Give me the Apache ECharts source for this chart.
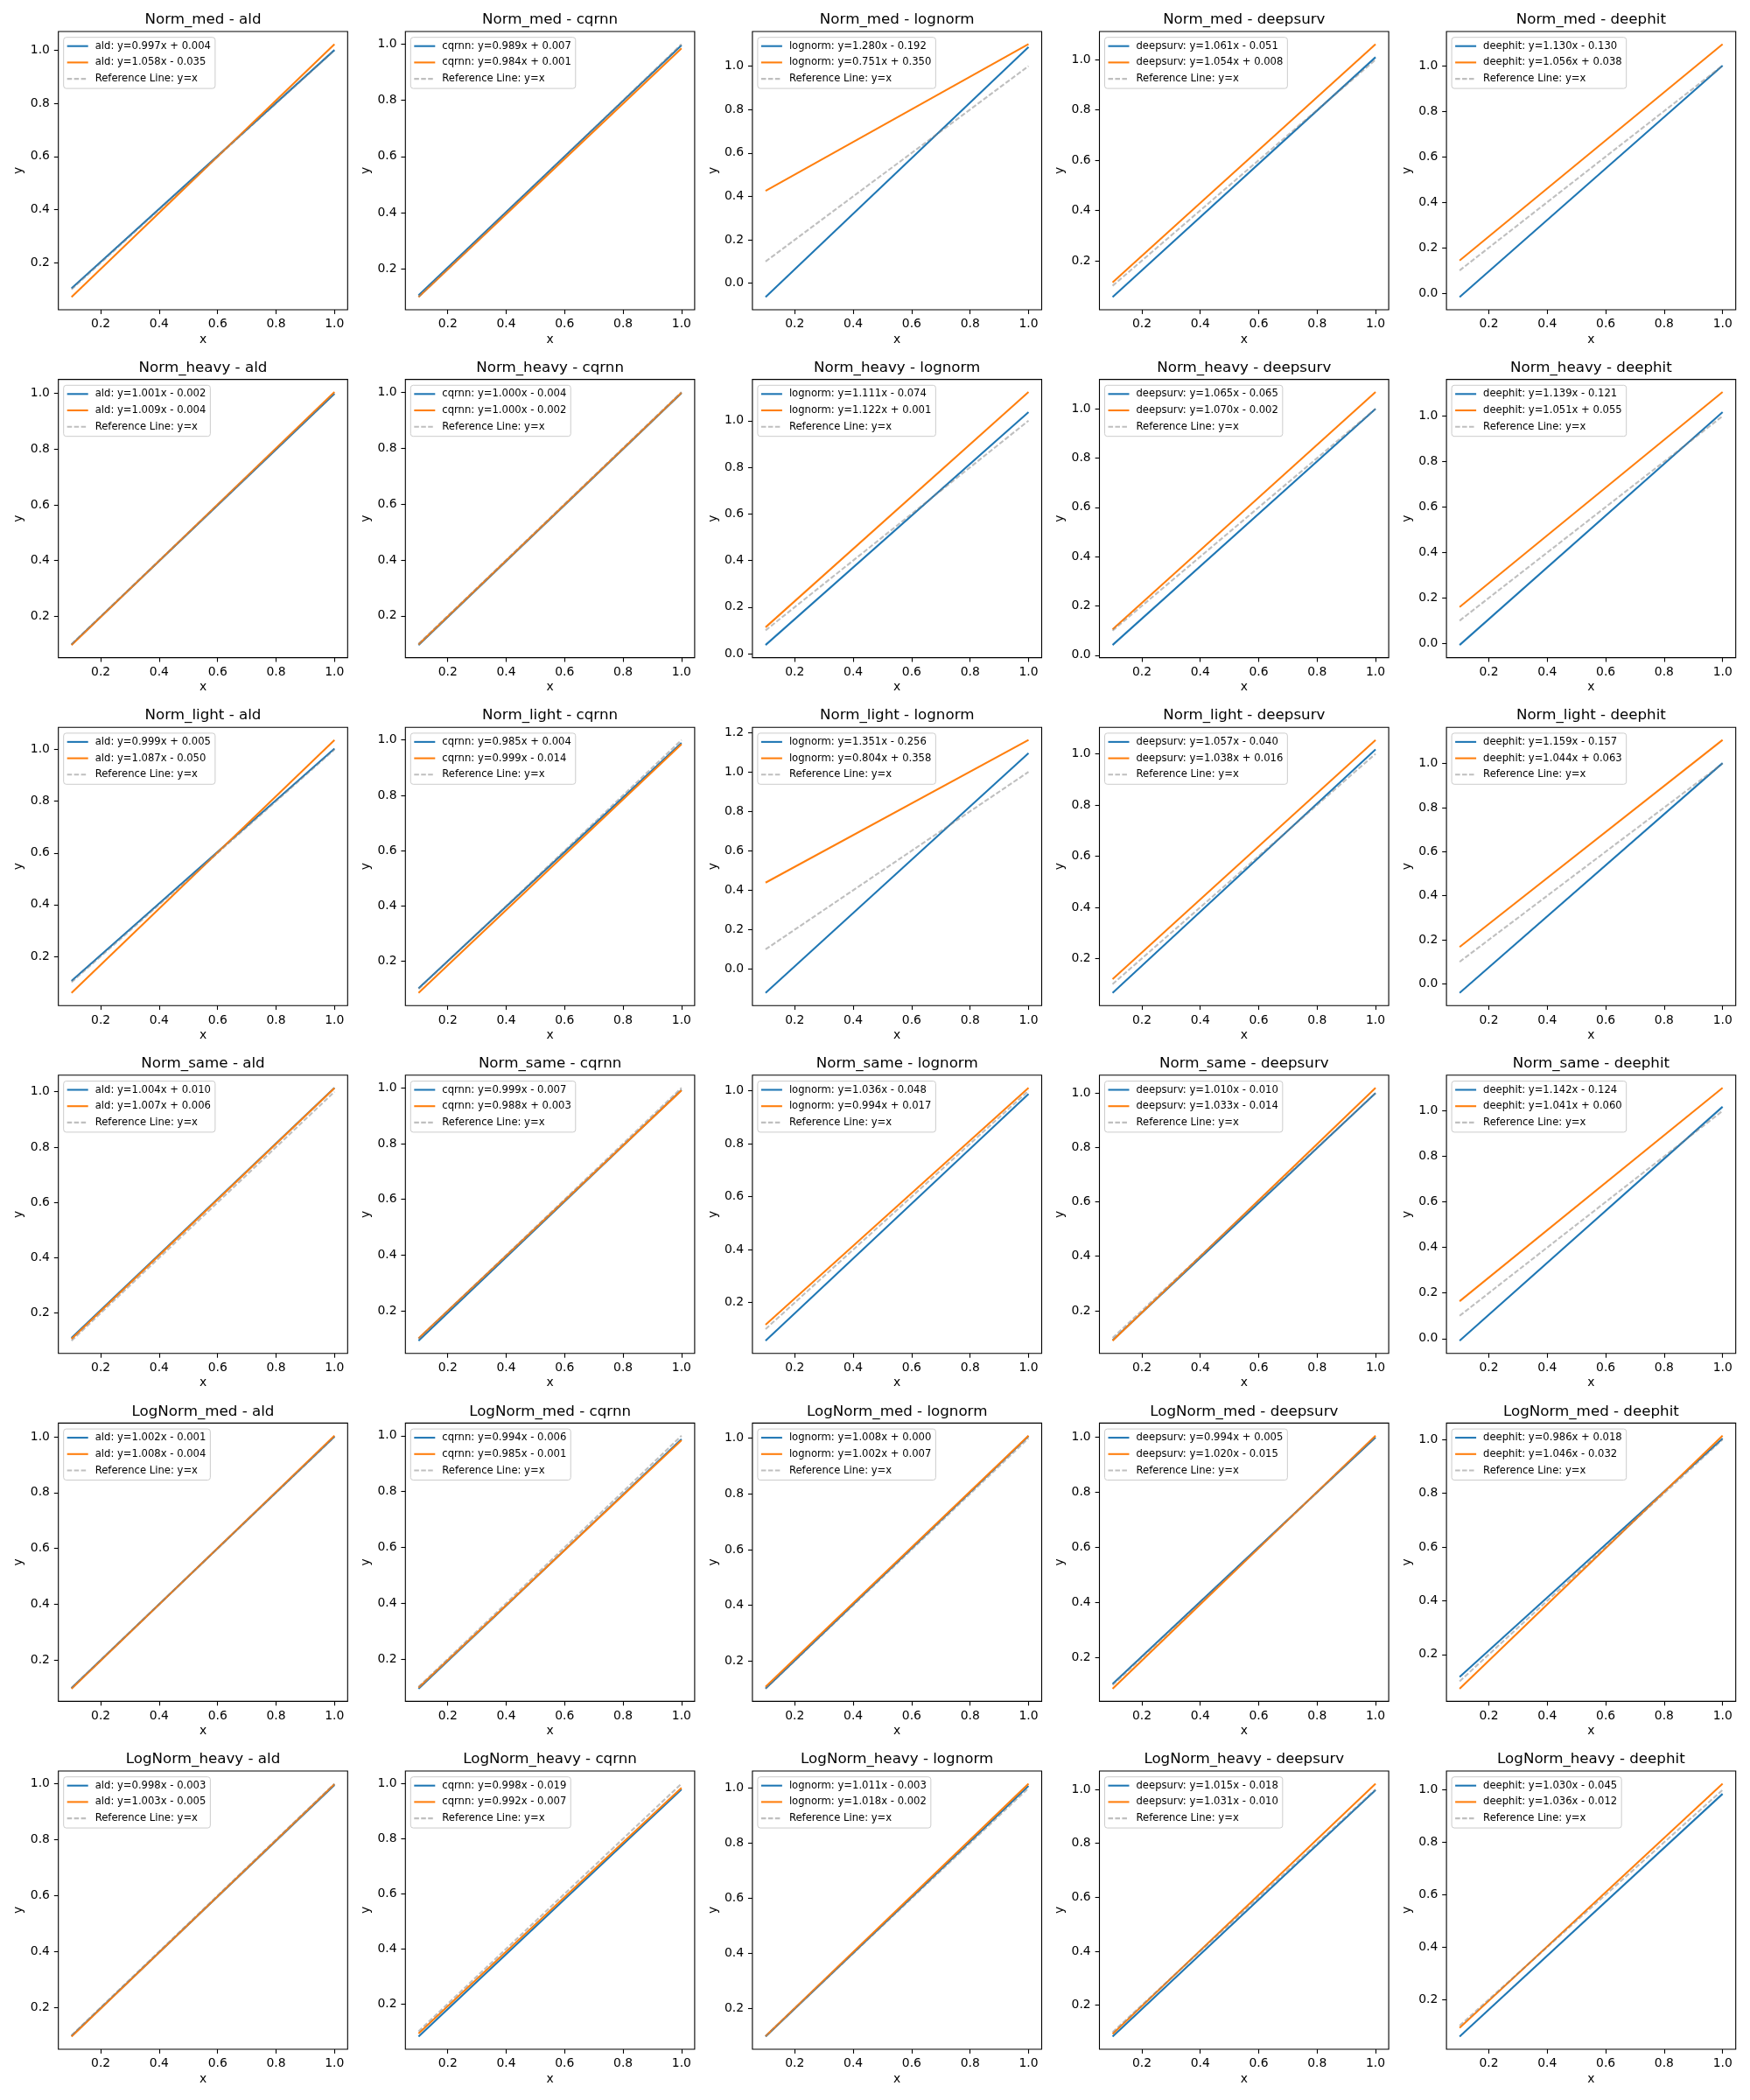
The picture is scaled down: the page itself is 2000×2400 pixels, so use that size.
<!DOCTYPE html>
<html><head><meta charset="utf-8">
<script src="https://cdn.jsdelivr.net/npm/echarts@6/dist/echarts.min.js"></script>
<style>html,body{margin:0;padding:0;background:#fff}#c{width:2000px;height:2400px}</style>
</head><body><div id="c"></div>
<script>
// ---- data ----
const rowNames = ['Norm_med', 'Norm_heavy', 'Norm_light', 'Norm_same', 'LogNorm_med', 'LogNorm_heavy'];
const modelNames = ['ald', 'cqrnn', 'lognorm', 'deepsurv', 'deephit'];
const xEnds = [0.1, 1.0];
const refY = [0.1, 1.0];
const refName = 'Reference Line: y=x';

// fitted-line legend texts (blue = first fit, orange = second fit)
const blueFit = [
  ['y=0.997x + 0.004', 'y=0.989x + 0.007', 'y=1.280x - 0.192', 'y=1.061x - 0.051', 'y=1.130x - 0.130'],
  ['y=1.001x - 0.002', 'y=1.000x - 0.004', 'y=1.111x - 0.074', 'y=1.065x - 0.065', 'y=1.139x - 0.121'],
  ['y=0.999x + 0.005', 'y=0.985x + 0.004', 'y=1.351x - 0.256', 'y=1.057x - 0.040', 'y=1.159x - 0.157'],
  ['y=1.004x + 0.010', 'y=0.999x - 0.007', 'y=1.036x - 0.048', 'y=1.010x - 0.010', 'y=1.142x - 0.124'],
  ['y=1.002x - 0.001', 'y=0.994x - 0.006', 'y=1.008x + 0.000', 'y=0.994x + 0.005', 'y=0.986x + 0.018'],
  ['y=0.998x - 0.003', 'y=0.998x - 0.019', 'y=1.011x - 0.003', 'y=1.015x - 0.018', 'y=1.030x - 0.045']
];
const orangeFit = [
  ['y=1.058x - 0.035', 'y=0.984x + 0.001', 'y=0.751x + 0.350', 'y=1.054x + 0.008', 'y=1.056x + 0.038'],
  ['y=1.009x - 0.004', 'y=1.000x - 0.002', 'y=1.122x + 0.001', 'y=1.070x - 0.002', 'y=1.051x + 0.055'],
  ['y=1.087x - 0.050', 'y=0.999x - 0.014', 'y=0.804x + 0.358', 'y=1.038x + 0.016', 'y=1.044x + 0.063'],
  ['y=1.007x + 0.006', 'y=0.988x + 0.003', 'y=0.994x + 0.017', 'y=1.033x - 0.014', 'y=1.041x + 0.060'],
  ['y=1.008x - 0.004', 'y=0.985x - 0.001', 'y=1.002x + 0.007', 'y=1.020x - 0.015', 'y=1.046x - 0.032'],
  ['y=1.003x - 0.005', 'y=0.992x - 0.007', 'y=1.018x - 0.002', 'y=1.031x - 0.010', 'y=1.036x - 0.012']
];
// y values of each line at x=0.1 (start) and x=1.0 (end)
const blueStart = [
  [0.1037, 0.1059, -0.064, 0.0551, -0.017],
  [0.0981, 0.096, 0.0371, 0.0415, -0.0071],
  [0.1049, 0.1025, -0.1209, 0.0657, -0.0411],
  [0.1104, 0.0929, 0.0556, 0.091, -0.0098],
  [0.0992, 0.0934, 0.1008, 0.1044, 0.1166],
  [0.0968, 0.0808, 0.0981, 0.0835, 0.058]
];
const blueEnd = [
  [1.001, 0.996, 1.088, 1.010, 1.000],
  [0.999, 0.996, 1.037, 1.000, 1.018],
  [1.004, 0.989, 1.095, 1.017, 1.002],
  [1.014, 0.992, 0.988, 1.000, 1.018],
  [1.001, 0.988, 1.008, 0.999, 1.004],
  [0.995, 0.979, 1.008, 0.997, 0.985]
];
const orangeStart = [
  [0.0708, 0.0994, 0.4251, 0.1134, 0.1436],
  [0.0969, 0.098, 0.1132, 0.105, 0.1601],
  [0.0587, 0.0859, 0.4384, 0.1198, 0.1674],
  [0.1067, 0.1018, 0.1164, 0.0893, 0.1641],
  [0.0968, 0.0975, 0.1072, 0.087, 0.0726],
  [0.0953, 0.0922, 0.0998, 0.0931, 0.0916]
];
const orangeEnd = [
  [1.023, 0.985, 1.101, 1.062, 1.094],
  [1.005, 0.998, 1.123, 1.068, 1.106],
  [1.037, 0.985, 1.162, 1.054, 1.107],
  [1.013, 0.991, 1.011, 1.019, 1.101],
  [1.004, 0.984, 1.009, 1.005, 1.014],
  [0.998, 0.985, 1.016, 1.021, 1.024]
];
const xTicks = [0.2, 0.4, 0.6, 0.8, 1.0];

// ---- layout / style ----
const L0 = 66.7, CP = 396.6, W = 330.6, T0 = 36, RP = 397.6, H = 318;
const FONT = 'DejaVu Sans';
const BLUE = '#1f77b4', ORANGE = '#ff7f0e', REF = 'rgba(128,128,128,0.5)';
// legend handle shapes (24 x 12 box, 2.08px thick stroke in the middle)
const SOLID_ICON = 'path://M0,0M24,12M0,4.96H24V7.04H0Z';
const DASH_ICON = 'path://M0,0M24,12M0,4.96H5.55V7.04H0Z M7.95,4.96H13.5V7.04H7.95Z M15.9,4.96H21.45V7.04H15.9Z';

const grid = [], xAxis = [], yAxis = [], series = [], title = [], legend = [];
let i = 0;
for (let r = 0; r < rowNames.length; r++) {
  for (let c = 0; c < modelNames.length; c++) {
    const left = L0 + c * CP, top = T0 + r * RP;
    const m = modelNames[c];
    const bName = m + ': ' + blueFit[r][c];
    const oName = m + ': ' + orangeFit[r][c];
    const bData = [[xEnds[0], blueStart[r][c]], [xEnds[1], blueEnd[r][c]]];
    const oData = [[xEnds[0], orangeStart[r][c]], [xEnds[1], orangeEnd[r][c]]];
    const rData = [[xEnds[0], refY[0]], [xEnds[1], refY[1]]];
    const ys = [blueStart[r][c], blueEnd[r][c], orangeStart[r][c], orangeEnd[r][c], refY[0], refY[1]];
    const lo = Math.min(...ys), hi = Math.max(...ys), pad = (hi - lo) * 0.05;
    const ymin = lo - pad, ymax = hi + pad;
    const xpad = (xEnds[1] - xEnds[0]) * 0.05;
    const yTicks = [];
    for (let k = Math.ceil(ymin / 0.2 - 1e-9); k * 0.2 <= ymax + 1e-9; k++) yTicks.push(Math.round(k * 2) / 10);

    grid.push({left: left, top: top, width: W, height: H, show: true, borderColor: '#000', borderWidth: 1.1, backgroundColor: 'transparent'});
    const common = {
      type: 'value', gridIndex: i,
      axisLine: {show: false, onZero: false},
      splitLine: {show: false},
      axisTick: {show: true, length: 4.9, lineStyle: {color: '#000', width: 1.1}},
      nameTextStyle: {color: '#000', fontSize: 13.9, fontFamily: FONT},
      nameLocation: 'middle'
    };
    xAxis.push(Object.assign({}, common, {
      min: xEnds[0] - xpad, max: xEnds[1] + xpad, name: 'x', nameGap: 27, position: 'bottom',
      axisTick: Object.assign({}, common.axisTick, {customValues: xTicks}),
      axisLabel: {customValues: xTicks, formatter: v => v.toFixed(1), color: '#000', fontSize: 13.9, fontFamily: FONT, margin: 9.8}
    }));
    yAxis.push(Object.assign({}, common, {
      min: ymin, max: ymax, name: 'y', nameGap: 38, position: 'left',
      axisTick: Object.assign({}, common.axisTick, {customValues: yTicks}),
      axisLabel: {customValues: yTicks, formatter: v => v.toFixed(1), color: '#000', fontSize: 13.9, fontFamily: FONT, margin: 9.8}
    }));
    title.push({
      text: rowNames[r] + ' - ' + m, left: left + W / 2, top: top - 21.6, textAlign: 'center', padding: 0,
      textStyle: {fontSize: 16.7, fontWeight: 'normal', color: '#000', fontFamily: FONT}
    });
    legend.push({
      data: [{name: bName, icon: SOLID_ICON}, {name: oName, icon: SOLID_ICON}, {name: refName, icon: DASH_ICON}],
      orient: 'vertical', left: left + 6, top: top + 6.7,
      itemWidth: 24, itemHeight: 12, itemGap: 6.7, padding: [4, 5, 5, 4],
      borderColor: '#cccccc', borderWidth: 1, borderRadius: 3, backgroundColor: 'rgba(255,255,255,0.8)',
      selectedMode: false,
      itemStyle: {borderWidth: 0},
      textStyle: {fontSize: 11.6, color: '#000', fontFamily: FONT, padding: [0, 0, 0, 3]}
    });
    const base = {type: 'line', xAxisIndex: i, yAxisIndex: i, symbol: 'none', showSymbol: false, silent: true};
    series.push(Object.assign({}, base, {name: bName, data: bData, lineStyle: {color: BLUE, width: 2.08}, itemStyle: {color: BLUE}}));
    series.push(Object.assign({}, base, {name: oName, data: oData, lineStyle: {color: ORANGE, width: 2.08}, itemStyle: {color: ORANGE}}));
    series.push(Object.assign({}, base, {name: refName, data: rData, lineStyle: {color: REF, width: 2.08, type: [5.55, 2.4]}, itemStyle: {color: REF}}));
    i++;
  }
}

const chart = echarts.init(document.getElementById('c'), null, {renderer: 'canvas', width: 2000, height: 2400});
chart.setOption({
  backgroundColor: '#fff',
  animation: false,
  title: title, legend: legend, grid: grid, xAxis: xAxis, yAxis: yAxis, series: series
});
</script>
</body></html>
